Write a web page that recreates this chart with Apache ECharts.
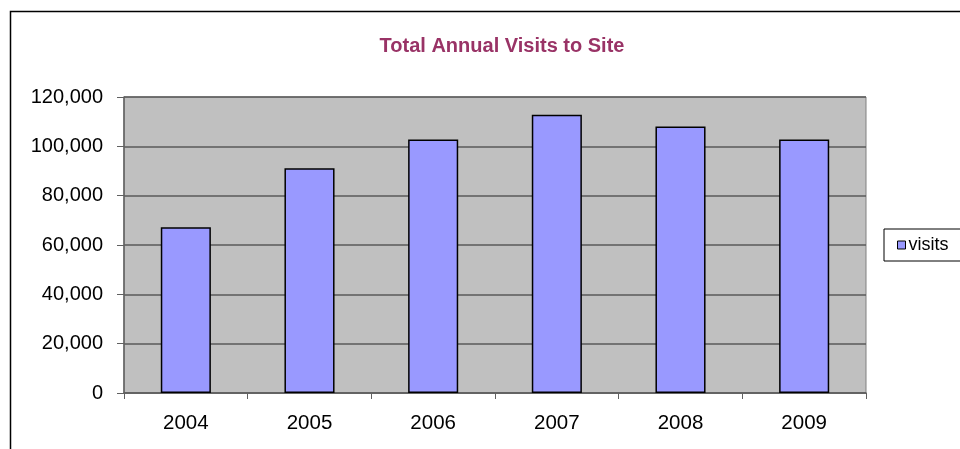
<!DOCTYPE html>
<html>
<head>
<meta charset="utf-8">
<script src="https://cdn.jsdelivr.net/npm/echarts@6/dist/echarts.min.js"></script>
<style>html,body{margin:0;padding:0;background:#fff;}#c{width:960px;height:449px;}</style>
</head>
<body>
<div id="c"></div>
<script>
const categories = ['2004', '2005', '2006', '2007', '2008', '2009'];
const visits = [67200, 91100, 102800, 112800, 108000, 102800];
const seriesName = 'visits';
const titleText = 'Total Annual Visits to Site';

const FONT = 'Liberation Sans, Arial, sans-serif';
const chart = echarts.init(document.getElementById('c'));
chart.setOption({
  animation: false,
  backgroundColor: '#ffffff',
  textStyle: { fontFamily: FONT },
  title: {
    text: titleText,
    left: 497, textAlign: 'center', top: 31,
    textStyle: { color: '#993366', fontSize: 20, fontWeight: 'bold', fontFamily: FONT }
  },
  graphic: [{
    type: 'rect', silent: true,
    shape: { x: 10.5, y: 11.5, width: 1000, height: 500 },
    style: { fill: 'none', stroke: '#000', lineWidth: 1.5 }
  }],
  legend: {
    left: 884, top: 229,
    padding: [7, 40, 7, 13],
    itemWidth: 8, itemHeight: 8, itemGap: 2,
    borderColor: '#000', borderWidth: 1,
    backgroundColor: '#fff',
    icon: 'rect',
    textStyle: { fontSize: 18, color: '#000', fontFamily: FONT, padding: [0, 0, 0, -2] },
    data: [{ name: seriesName, itemStyle: { borderColor: '#000', borderWidth: 1 } }]
  },
  grid: {
    left: 124, top: 97, right: 94, bottom: 56,
    show: true, backgroundColor: '#C0C0C0', borderColor: '#808080', borderWidth: 1
  },
  xAxis: {
    type: 'category', data: categories,
    axisLine: { lineStyle: { color: '#606060', width: 1.5 } },
    axisTick: { show: true, length: 6, lineStyle: { color: '#606060' } },
    axisLabel: { color: '#000', fontSize: 20.5, margin: 20, fontFamily: FONT }
  },
  yAxis: {
    type: 'value', min: 0, max: 120000, interval: 20000,
    axisLine: { show: true, lineStyle: { color: '#606060', width: 1.5 } },
    axisTick: { show: true, length: 7, lineStyle: { color: '#606060' } },
    axisLabel: {
      color: '#000', fontSize: 20, margin: 21, fontFamily: FONT,
      formatter: v => v.toLocaleString('en-US')
    },
    splitLine: { lineStyle: { color: '#5a5a5a', width: 1.5 } }
  },
  series: [{
    name: seriesName, type: 'bar', data: visits,
    barWidth: '40.5%',
    itemStyle: { color: '#9999FF', borderColor: '#000', borderWidth: 1.5 }
  }]
});
</script>
</body>
</html>
